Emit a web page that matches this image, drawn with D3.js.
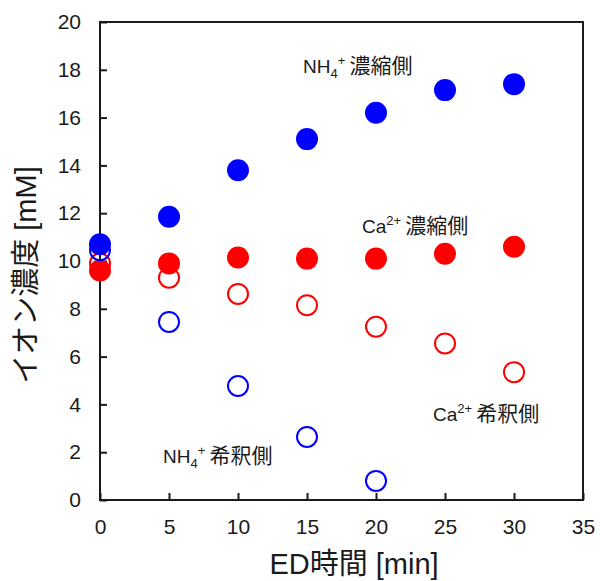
<!DOCTYPE html>
<html>
<head>
<meta charset="utf-8">
<script src="https://cdn.jsdelivr.net/npm/d3@7"></script>
</head>
<body style="margin:0">
<script>
var W = 600;
var H = 581;
var margin = {top: 22, right: 17, bottom: 81, left: 100};
var plotW = W - margin.left - margin.right;
var plotH = H - margin.top - margin.bottom;
var ink = '#1a1a1a';

// data
var times = [0, 5, 10, 15, 20, 25, 30];
var nh4Conc = [10.7, 11.85, 13.8, 15.1, 16.2, 17.15, 17.4];
var nh4Dil = [10.45, 7.45, 4.77, 2.64, 0.8];
var caConc = [9.6, 9.9, 10.15, 10.1, 10.1, 10.3, 10.6];
var caDil = [9.9, 9.3, 8.62, 8.15, 7.25, 6.55, 5.35];
var xTicks = [0, 5, 10, 15, 20, 25, 30, 35];
var yTicks = [0, 2, 4, 6, 8, 10, 12, 14, 16, 18, 20];

var svg = d3.select('body').append('svg')
            .attr('width', W)
            .attr('height', H);

var x = d3.scaleLinear().domain([0, 35]).range([margin.left, margin.left + plotW]);
var y = d3.scaleLinear().domain([0, 20]).range([margin.top + plotH, margin.top]);

// frame, drawn as four thin filled bars
var x0 = x(0), x1 = x(35), y0 = y(0), y1 = y(20);
var bars = [
  [x0 - 1, y1 - 1, x1 - x0 + 2, 2],
  [x0 - 1, y0 - 1, x1 - x0 + 2, 2],
  [x0 - 1, y1 - 1, 2, y0 - y1 + 2],
  [x1 - 1, y1 - 1, 2, y0 - y1 + 2]
];
svg.append('g').selectAll('rect')
    .data(bars)
    .enter()
      .append('rect')
      .attr('x', function(d){ return d[0]; })
      .attr('y', function(d){ return d[1]; })
      .attr('width', function(d){ return d[2]; })
      .attr('height', function(d){ return d[3]; })
      .attr('fill', ink);

var xAxis = d3.axisBottom(x).tickValues(xTicks).tickSize(-7).tickPadding(19);
var yAxis = d3.axisLeft(y).tickValues(yTicks).tickSize(-7).tickPadding(19);

svg.append('g')
    .attr('transform', 'translate(0,' + y0 + ')')
    .call(xAxis)
    .call(styleAxis);
svg.append('g')
    .attr('transform', 'translate(' + x0 + ',0)')
    .call(yAxis)
    .call(styleAxis);

function styleAxis(g) {
  g.select('.domain').remove();
  g.selectAll('.tick line')
    .attr('stroke', ink)
    .attr('stroke-width', 2);
  g.selectAll('.tick text')
    .attr('font-size', 21)
    .attr('font-family', '"Liberation Sans", Arial, sans-serif')
    .attr('fill', ink);
}

// points
function plotPoints(vals, color, filled) {
  svg.append('g').selectAll('circle')
      .data(vals)
      .enter()
        .append('circle')
        .attr('cx', function(d, i){ return x(times[i]); })
        .attr('cy', function(d){ return y(d); })
        .attr('r', filled ? 11 : 10)
        .attr('fill', filled ? color : 'none')
        .attr('stroke', filled ? 'none' : color)
        .attr('stroke-width', 2);
}
plotPoints(caDil, '#ff0000', false);
plotPoints(caConc, '#ff0000', true);
plotPoints(nh4Dil, '#0000ff', false);
plotPoints(nh4Conc, '#0000ff', true);

// series labels
function label(px, py, base, sub, sup, rest) {
  var t = svg.append('text')
      .attr('x', px).attr('y', py)
      .attr('fill', ink)
      .attr('font-family', '"Liberation Sans", Arial, sans-serif')
      .attr('font-size', 19);
  t.append('tspan').attr('font-size', 19).text(base);
  if (sub) t.append('tspan').attr('dy', 5).attr('font-size', 13).text(sub);
  t.append('tspan').attr('dy', sub ? -13 : -8).attr('font-size', 13).text(sup);
  t.append('tspan').attr('dy', 8).attr('font-size', 21)
      .attr('font-family', '"Noto Sans CJK JP", sans-serif')
      .text('\u2009' + rest);
}
label(303, 73, 'NH', '4', '+', '濃縮側');
label(362, 233, 'Ca', null, '2+', '濃縮側');
label(163, 463, 'NH', '4', '+', '希釈側');
label(433, 421, 'Ca', null, '2+', '希釈側');

// axis titles
svg.append('text')
    .attr('x', 354).attr('y', 574)
    .attr('text-anchor', 'middle')
    .attr('fill', ink)
    .attr('font-family', '"Liberation Sans", Arial, "Noto Sans CJK JP", sans-serif')
    .attr('font-size', 29)
    .text('ED時間 [min]');
svg.append('text')
    .attr('transform', 'translate(36,275) rotate(-90)')
    .attr('text-anchor', 'middle')
    .attr('fill', ink)
    .attr('font-family', '"Liberation Sans", Arial, "Noto Sans CJK JP", sans-serif')
    .attr('font-size', 29)
    .text('イオン濃度 [mM]');
</script>
</body>
</html>
